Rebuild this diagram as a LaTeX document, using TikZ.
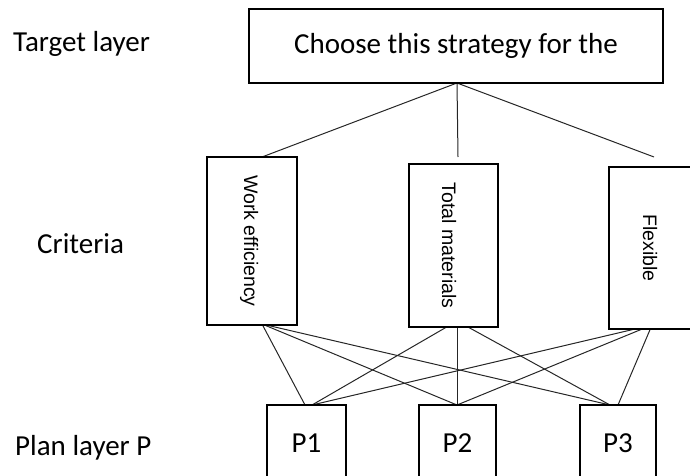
\documentclass[tikz,border=0pt]{standalone}
\usepackage{fontspec}
\setmainfont{Carlito}
\newfontfamily\arialf{Liberation Sans}
\usetikzlibrary{backgrounds}
\begin{document}
\begin{tikzpicture}[x=1pt,y=-1pt,
  bigfont/.style={font=\fontsize{29}{34}\selectfont},
  lbl/.style={bigfont, anchor=base west, inner sep=0pt},
  box/.style={draw, line width=1.3pt, fill=white, inner sep=0pt},
  vbox/.style={box, rotate=-90, font=\arialf\fontsize{19.5}{23}\selectfont, text depth=0pt},
  pbox/.style={box, bigfont, minimum height=76pt},
  link/.style={line width=1pt, draw=black!85}]
\useasboundingbox (0,0) rectangle (690,476);
\clip (0,0) rectangle (690,476);
% labels
\node[lbl] (tl) at (13,52) {Target layer};
\node[lbl] (cl) at (37,253) {Criteria};
\node[lbl] (pl) at (15,455) {Plan layer P};
% target
\node[box, bigfont, minimum width=414pt, minimum height=74pt] (target) at (456,46) {Choose this strategy for the};
% criteria
\node[vbox, minimum width=168pt, minimum height=90pt, text height=16pt] (we) at (252,241) {Work efficiency};
\node[vbox, minimum width=163pt, minimum height=89pt, text height=23pt] (tm) at (453.5,245.5) {Total materials};
\node[vbox, minimum width=162pt, minimum height=82pt, text height=14pt] (fx) at (650,248) {Flexible};
% plans
\node[pbox, minimum width=79pt] (p1) at (306.5,443) {P1};
\node[pbox, minimum width=77pt] (p2) at (457.5,443) {P2};
\node[pbox, minimum width=76pt] (p3) at (618,443) {P3};
% connector end points
\coordinate (tb) at (457,83);
\coordinate (we-in) at (262,157);
\coordinate (tm-in) at (458,157);
\coordinate (fx-in) at (654,157);
\coordinate (we-out) at (262,324);
\coordinate (tm-out) at (457,321);
\coordinate (fx-out) at (652,325);
\coordinate (p1a) at (305,405);
\coordinate (p1b) at (312,405);
\coordinate (p2a) at (457,405);
\coordinate (p3a) at (610,405);
\coordinate (p3b) at (618,405);
\begin{scope}[on background layer]
\draw[link] (tb) -- (we-in);
\draw[link] (tb) -- (tm-in);
\draw[link] (tb) -- (fx-in);
\draw[link] (we-out) -- (p1a);
\draw[link] (we-out) -- (p2a);
\draw[link] (we-out) -- (p3a);
\draw[link] (tm-out) -- (p1b);
\draw[link] (tm-out) -- (p2a);
\draw[link] (tm-out) -- (p3a);
\draw[link] (fx-out) -- (p1b);
\draw[link] (fx-out) -- (p2a);
\draw[link] (fx-out) -- (p3b);
\end{scope}
\end{tikzpicture}
\end{document}
